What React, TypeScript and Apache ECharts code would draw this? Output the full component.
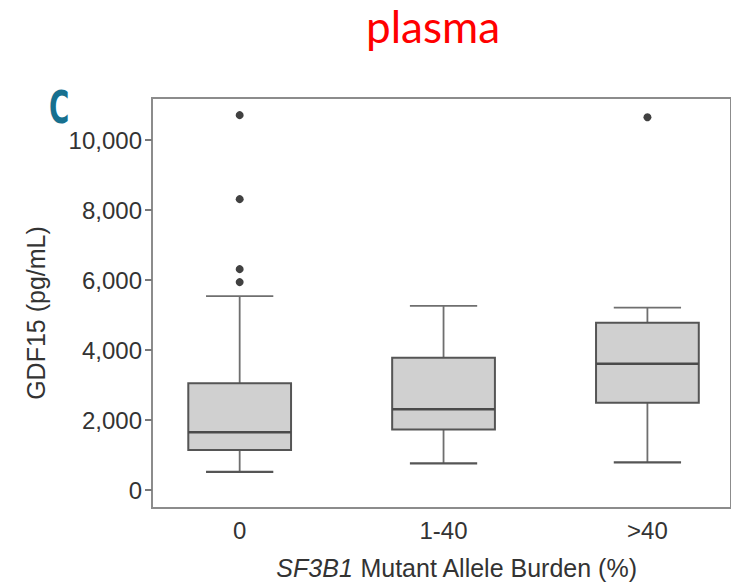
import React, { useEffect, useRef } from "react";
import * as echarts from "echarts";

const categories = ["0", "1-40", ">40"];
const whiskerLow = [520, 760, 790];
const q1 = [1140, 1730, 2490];
const median = [1650, 2310, 3610];
const q3 = [3050, 3780, 4780];
const whiskerHigh = [5540, 5260, 5210];
const outlierGroup = [0, 0, 0, 0, 2];
const outlierValue = [10710, 8310, 6310, 5940, 10650];
const yTicks = [0, 2000, 4000, 6000, 8000, 10000];

const BOX_HALF = 0.252;
const CAP_HALF = 0.165;
const FONT = "'Liberation Sans', Arial, sans-serif";
const AXIS_GRAY = "#8c8c8c";

export default function App() {
  const ref = useRef<HTMLDivElement>(null);
  useEffect(() => {
    if (!ref.current) return;
    const chart = echarts.init(ref.current, null, { renderer: "svg" });
    const boxData = categories.map((_, i) => [i, whiskerLow[i], q1[i], median[i], q3[i], whiskerHigh[i]]);
    const outData = outlierGroup.map((g, i) => [g, outlierValue[i]]);
    chart.setOption({
      animation: false,
      backgroundColor: "#ffffff",
      title: {
        text: "plasma",
        left: 366,
        top: 4,
        padding: 0,
        textStyle: { color: "#ff0000", fontFamily: "Lato, 'Open Sans', sans-serif", fontSize: 44, fontWeight: "normal" },
      },
      grid: {
        left: 152,
        top: 98,
        right: -2,
        bottom: 79,
        show: true,
        borderColor: AXIS_GRAY,
        borderWidth: 2,
        containLabel: false,
      },
      xAxis: {
        type: "value",
        min: -0.43,
        max: 2.41,
        splitLine: { show: false },
        axisLine: { show: true, onZero: false, lineStyle: { color: AXIS_GRAY, width: 2 } },
        axisTick: { show: false },
        axisLabel: {
          customValues: [0, 1, 2],
          formatter: (v: number) => categories[Math.round(v)] ?? "",
          color: "#333",
          fontFamily: FONT,
          fontSize: 24,
          margin: 10,
        },
      },
      yAxis: {
        type: "value",
        min: -514,
        max: 11200,
        splitLine: { show: false },
        axisLine: { show: true, onZero: false, lineStyle: { color: AXIS_GRAY, width: 2 } },
        axisTick: { show: true, inside: false, customValues: yTicks, length: 7, lineStyle: { color: "#7a7a7a", width: 2 } },
        axisLabel: {
          customValues: yTicks,
          formatter: (v: number) => v.toLocaleString("en-US"),
          color: "#333",
          fontFamily: FONT,
          fontSize: 24,
          margin: 10,
        },
      },
      graphic: [
        {
          type: "text",
          left: 49,
          top: 86,
          scaleX: 0.7,
          style: {
            text: "C",
            fill: "#17708f",
            font: "bold 44px 'Liberation Sans Narrow', 'DejaVu Sans Condensed', sans-serif",
          },
        },
        {
          type: "text",
          x: 36,
          y: 313,
          rotation: Math.PI / 2,
          style: {
            text: "GDF15 (pg/mL)",
            fill: "#333",
            font: "25px 'Liberation Sans', Arial, sans-serif",
            align: "center",
            verticalAlign: "middle",
          },
        },
        {
          type: "text",
          x: 457,
          y: 568,
          style: {
            text: "{i|SF3B1} Mutant Allele Burden (%)",
            fill: "#333",
            font: "25px 'Liberation Sans', Arial, sans-serif",
            align: "center",
            verticalAlign: "middle",
            rich: {
              i: { fontStyle: "italic", fontSize: 25, fontFamily: "'Liberation Sans', Arial, sans-serif", fill: "#333" },
            },
          },
        },
      ],
      series: [
        {
          type: "custom",
          name: "GDF15",
          data: boxData,
          encode: { x: 0, y: [1, 2, 3, 4, 5] },
          renderItem: (params: any, api: any) => {
            const x = api.value(0);
            const pLow = api.coord([x, api.value(1)]);
            const pQ1 = api.coord([x, api.value(2)]);
            const pMed = api.coord([x, api.value(3)]);
            const pQ3 = api.coord([x, api.value(4)]);
            const pHigh = api.coord([x, api.value(5)]);
            const unit = api.size([1, 0])[0];
            const bh = unit * BOX_HALF;
            const ch = unit * CAP_HALF;
            const cx = pMed[0];
            const wStyle = { stroke: "#6f6f6f", lineWidth: 1.8 };
            return {
              type: "group",
              children: [
                { type: "line", shape: { x1: cx, y1: pHigh[1], x2: cx, y2: pQ3[1] }, style: wStyle },
                { type: "line", shape: { x1: cx, y1: pQ1[1], x2: cx, y2: pLow[1] }, style: wStyle },
                { type: "line", shape: { x1: cx - ch, y1: pHigh[1], x2: cx + ch, y2: pHigh[1] }, style: wStyle },
                { type: "line", shape: { x1: cx - ch, y1: pLow[1], x2: cx + ch, y2: pLow[1] }, style: { stroke: "#555", lineWidth: 2.2 } },
                {
                  type: "rect",
                  shape: { x: cx - bh, y: pQ3[1], width: 2 * bh, height: pQ1[1] - pQ3[1] },
                  style: { fill: "#d0d0d0", stroke: "#555", lineWidth: 2 },
                },
                { type: "line", shape: { x1: cx - bh, y1: pMed[1], x2: cx + bh, y2: pMed[1] }, style: { stroke: "#4a4a4a", lineWidth: 2.5 } },
              ],
            };
          },
          z: 2,
        },
        {
          type: "scatter",
          name: "outliers",
          data: outData,
          symbol: "circle",
          symbolSize: 8,
          itemStyle: { color: "#111" },
          z: 3,
        },
      ],
    });
    return () => chart.dispose();
  }, []);
  return <div ref={ref} style={{ position: "absolute", left: 0, top: 0, width: 731, height: 587 }} />;
}
